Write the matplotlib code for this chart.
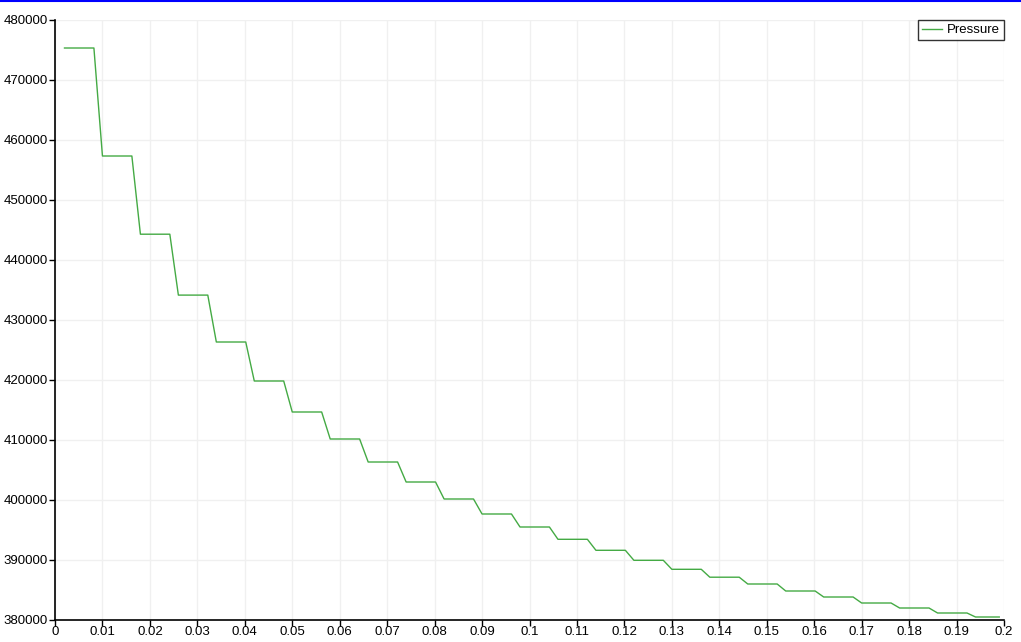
import matplotlib
matplotlib.use("Agg")
import matplotlib.pyplot as plt
from matplotlib.lines import Line2D

plt.rcParams["font.family"] = ["Liberation Sans", "DejaVu Sans"]

# Plateau start / end times and pressure levels
plateau_start = [0.002, 0.010, 0.018, 0.026, 0.034, 0.042, 0.050, 0.058, 0.066,
                 0.074, 0.082, 0.090, 0.098, 0.106, 0.114, 0.122, 0.130, 0.138,
                 0.146, 0.154, 0.162, 0.170, 0.178, 0.186, 0.194]
plateau_end = [0.0082, 0.0162, 0.0242, 0.0322, 0.0402, 0.0482, 0.0562, 0.0642,
               0.0722, 0.0802, 0.0882, 0.0962, 0.1042, 0.1122, 0.1202, 0.1282,
               0.1362, 0.1442, 0.1522, 0.1602, 0.1682, 0.1762, 0.1842, 0.1922,
               0.1990]
pressure = [475333, 457333, 444300, 434150, 426333, 419833, 414667, 410167,
            406333, 403000, 400167, 397667, 395500, 393450, 391617, 389950,
            388450, 387133, 386000, 384833, 383833, 382833, 382000, 381167,
            380500]

xticks = [0, 0.01, 0.02, 0.03, 0.04, 0.05, 0.06, 0.07, 0.08, 0.09, 0.1, 0.11,
          0.12, 0.13, 0.14, 0.15, 0.16, 0.17, 0.18, 0.19, 0.2]
xticklabels = ["0", "0.01", "0.02", "0.03", "0.04", "0.05", "0.06", "0.07",
               "0.08", "0.09", "0.1", "0.11", "0.12", "0.13", "0.14", "0.15",
               "0.16", "0.17", "0.18", "0.19", "0.2"]
yticks = [380000, 390000, 400000, 410000, 420000, 430000, 440000, 450000,
          460000, 470000, 480000]

t = []
p = []
for s, e, v in zip(plateau_start, plateau_end, pressure):
    t += [s, e]
    p += [v, v]

fig = plt.figure(figsize=(10.21, 6.42), dpi=100)
ax = fig.add_axes([55/1021, 22/642, 949/1021, 600/642])

green = "#44aa44"
ax.plot(t, p, color=green, lw=1.0, label="Pressure")

ax.set_xlim(0, 0.2)
ax.set_ylim(380000, 480000)
ax.set_xticks(xticks)
ax.set_xticklabels(xticklabels)
ax.set_yticks(yticks)
ax.set_yticklabels([str(v) for v in yticks])
ax.grid(True, color="#f0f0f0", lw=1.0)
ax.set_axisbelow(True)
for s in ["top", "right"]:
    ax.spines[s].set_visible(False)
for s in ["left", "bottom"]:
    ax.spines[s].set_color("black")
    ax.spines[s].set_linewidth(1.2)
ax.tick_params(axis="both", direction="out", length=4, width=1,
               labelsize=9.5, colors="black", pad=1)
ax.tick_params(axis="x", pad=0)

leg = ax.legend(handles=[Line2D([0], [0], color=green, lw=1)],
                labels=["Pressure"], loc="upper right",
                bbox_to_anchor=(1.0, 1.0), frameon=True, fancybox=False,
                fontsize=9.5, handlelength=1.5, borderpad=0.3,
                handletextpad=0.4, borderaxespad=0.0)
leg.get_frame().set_edgecolor("black")
leg.get_frame().set_linewidth(1.0)

fig.add_artist(Line2D([0, 1], [1 - 1/642, 1 - 1/642], color="blue", lw=1.5,
                      transform=fig.transFigure))

fig.savefig("out.png", dpi=100)
